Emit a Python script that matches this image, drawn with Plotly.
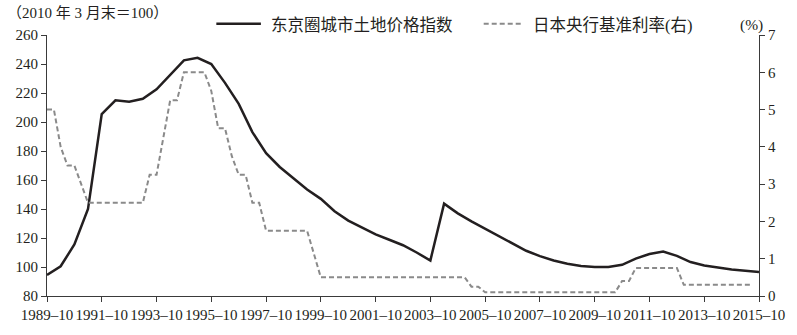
import plotly.graph_objects as go

# Tokyo-area urban land price index (end of March 2010 = 100), half-yearly
land_dates = [
    "1989-10", "1990-04", "1990-10", "1991-04", "1991-10", "1992-04", "1992-10",
    "1993-04", "1993-10", "1994-04", "1994-10", "1995-04", "1995-10", "1996-04",
    "1996-10", "1997-04", "1997-10", "1998-04", "1998-10", "1999-04", "1999-10",
    "2000-04", "2000-10", "2001-04", "2001-10", "2002-04", "2002-10", "2003-04",
    "2003-10", "2004-04", "2004-10", "2005-04", "2005-10", "2006-04", "2006-10",
    "2007-04", "2007-10", "2008-04", "2008-10", "2009-04", "2009-10", "2010-04",
    "2010-10", "2011-04", "2011-10", "2012-04", "2012-10", "2013-04", "2013-10",
    "2014-04", "2014-10", "2015-04", "2015-10",
]
land_index = [
    94.5, 100.5, 115.5, 140.0, 205.5, 215.0, 214.0,
    216.0, 222.5, 232.5, 242.5, 244.3, 240.0, 227.0,
    212.5, 193.0, 178.5, 169.0, 161.0, 153.5, 147.0,
    138.5, 132.0, 127.0, 122.5, 118.8, 115.0, 110.0,
    104.5, 143.7, 137.0, 131.5, 126.3, 121.0, 116.0,
    111.2, 107.5, 104.5, 102.3, 100.7, 100.0, 100.0,
    101.5, 105.8, 109.0, 110.6, 107.7, 103.4, 101.0,
    99.4, 98.3, 97.4, 96.6,
]

# Bank of Japan base rate (%), quarterly turning points
rate_dates = [
    "1989-10", "1990-01", "1990-04", "1990-07", "1990-10", "1991-01", "1991-04",
    "1993-04", "1993-07", "1993-10", "1994-01", "1994-04", "1994-07", "1994-10",
    "1995-07", "1995-10", "1996-01", "1996-04", "1996-07", "1996-10", "1997-01",
    "1997-04", "1997-07", "1997-10", "1999-04", "1999-07", "1999-10", "2005-01",
    "2005-04", "2005-07", "2005-10", "2010-07", "2010-10", "2011-01", "2011-04",
    "2012-10", "2013-01", "2015-07",
]
rate_pct = [
    5.0, 5.0, 4.0, 3.5, 3.5, 3.0, 2.5,
    2.5, 3.25, 3.25, 4.25, 5.25, 5.25, 6.0,
    6.0, 5.5, 4.5, 4.5, 3.75, 3.25, 3.25,
    2.5, 2.5, 1.75, 1.75, 1.125, 0.5, 0.5,
    0.25, 0.25, 0.1, 0.1, 0.4, 0.4, 0.75,
    0.75, 0.3, 0.3,
]

x_tick_vals = ["1989-10", "1991-10", "1993-10", "1995-10", "1997-10", "1999-10", "2001-10",
               "2003-10", "2005-10", "2007-10", "2009-10", "2011-10", "2013-10", "2015-10"]
x_tick_text = [v.replace("-", "–") for v in x_tick_vals]
left_ticks = [80, 100, 120, 140, 160, 180, 200, 220, 240, 260]
right_ticks = [0, 1, 2, 3, 4, 5, 6, 7]

series_names = ["东京圈城市土地价格指数", "日本央行基准利率(右)"]
unit_left = "（2010 年 3 月末＝100）"
unit_right = "(%)"

INK = "#231f20"
LAND_COLOR = INK
RATE_COLOR = "#8a8a8a"
SERIF = "Liberation Serif, Times New Roman, serif"
CJK = "Liberation Serif, Noto Sans CJK SC, serif"

# plot-area geometry in pixels, used to place the hand-drawn key in paper units
W, H = 797, 335
ML, MR, MT, MB = 47, 31, 35, 35
PW, PH = W - ML - MR, H - MT - MB


def px_x(px):
    return (px - ML) / PW


def px_y(py):
    return (H - MB - py) / PH


def to_date(s):
    return s + "-01"


fig = go.Figure()
fig.add_trace(go.Scatter(
    x=[to_date(d) for d in land_dates], y=land_index,
    mode="lines", name=series_names[0],
    line=dict(color=LAND_COLOR, width=2.5),
    yaxis="y",
))
fig.add_trace(go.Scatter(
    x=[to_date(d) for d in rate_dates], y=rate_pct,
    mode="lines", name=series_names[1],
    line=dict(color=RATE_COLOR, width=2, dash="5px,3px"),
    yaxis="y2",
))

axis_common = dict(
    showgrid=False, zeroline=False, showline=True,
    linecolor="#3a3a3a", linewidth=1.2,
    ticks="outside", ticklen=5, tickwidth=1.2, tickcolor="#3a3a3a",
    tickfont=dict(family=SERIF, size=15, color=INK),
)

# key: sample line + label for each series, above the plot
key_y = px_y(23.5)
shapes = [
    dict(type="line", xref="paper", yref="paper",
         x0=px_x(218), x1=px_x(263), y0=key_y, y1=key_y,
         line=dict(color=LAND_COLOR, width=2.5)),
    dict(type="line", xref="paper", yref="paper",
         x0=px_x(488), x1=px_x(528), y0=key_y, y1=key_y,
         line=dict(color=RATE_COLOR, width=2, dash="5px,3px")),
]
text_font = dict(family=CJK, size=16.5, color=INK)
annotations = [
    dict(text=series_names[0], xref="paper", yref="paper", x=px_x(271), y=px_y(25),
         xanchor="left", yanchor="middle", showarrow=False, font=text_font),
    dict(text=series_names[1], xref="paper", yref="paper", x=px_x(536), y=px_y(25),
         xanchor="left", yanchor="middle", showarrow=False, font=text_font),
    dict(text=unit_left, xref="paper", yref="paper", x=px_x(5), y=px_y(13),
         xanchor="left", yanchor="middle", showarrow=False,
         font=dict(family=CJK, size=15, color=INK)),
    dict(text=unit_right, xref="paper", yref="paper", x=px_x(745), y=px_y(25),
         xanchor="left", yanchor="middle", showarrow=False,
         font=dict(family=SERIF, size=15.5, color=INK)),
]

fig.update_layout(
    width=W, height=H,
    margin=dict(l=ML, r=MR, t=MT, b=MB),
    paper_bgcolor="white", plot_bgcolor="white",
    showlegend=False,
    xaxis=dict(
        type="date",
        range=[to_date(x_tick_vals[0]), to_date(x_tick_vals[-1])],
        tickvals=[to_date(v) for v in x_tick_vals],
        ticktext=x_tick_text,
        **axis_common,
    ),
    yaxis=dict(
        range=[left_ticks[0], left_ticks[-1]],
        tickvals=left_ticks,
        **axis_common,
    ),
    yaxis2=dict(
        range=[right_ticks[0], right_ticks[-1]],
        tickvals=right_ticks,
        overlaying="y", side="right",
        **axis_common,
    ),
    shapes=shapes,
    annotations=annotations,
)

fig.write_html("out.html")
